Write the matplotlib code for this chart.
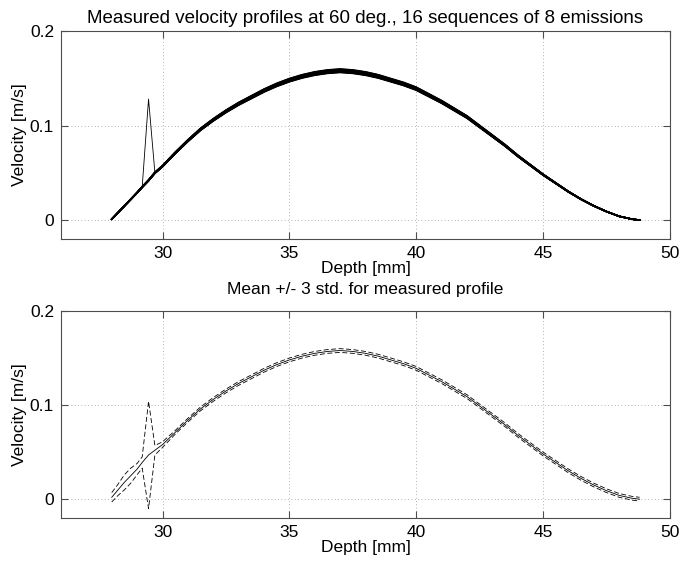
import numpy as np
import matplotlib
matplotlib.use("Agg")
import matplotlib.pyplot as plt

plt.rcParams['font.family'] = ['Liberation Sans', 'DejaVu Sans']
plt.rcParams['font.size'] = 12.5

# Depth samples [mm]
depth = [28.0, 28.25, 28.5, 28.75, 29.0, 29.2, 29.45, 29.7, 30.0, 30.5, 31.0, 31.5,
         32.0, 32.5, 33.0, 33.5, 34.0, 34.5, 35.0, 35.5, 36.0, 36.5, 37.0, 37.5,
         38.0, 38.5, 39.0, 39.5, 40.0, 40.5, 41.0, 41.5, 42.0, 42.5, 43.0, 43.5,
         44.0, 44.5, 45.0, 45.5, 46.0, 46.5, 47.0, 47.5, 48.0, 48.5, 48.8]

# Typical measured profile [m/s]
profile_vel = [0.001, 0.008, 0.015, 0.022, 0.029, 0.035, 0.042, 0.050, 0.057, 0.071, 0.084, 0.096,
               0.106, 0.115, 0.123, 0.130, 0.137, 0.143, 0.148, 0.152, 0.155, 0.157, 0.158, 0.157,
               0.155, 0.152, 0.148, 0.144, 0.139, 0.132, 0.125, 0.117, 0.109, 0.099, 0.089, 0.079,
               0.068, 0.058, 0.048, 0.039, 0.030, 0.022, 0.015, 0.009, 0.004, 0.001, 0.000]

# Relative gain of each of the 16 sequences
seq_gain = [1.000, 0.992, 1.006, 0.996, 1.010, 0.988, 1.003, 0.995,
            1.008, 0.990, 1.004, 0.998, 1.012, 0.993, 1.001, 0.997]

# One sequence has an outlier at 29.45 mm
spike_seq = 6
spike_depth_idx = 6
spike_vel = 0.128

# Mean and 3*std over the sequences
mean_vel = [0.002, 0.010, 0.018, 0.025, 0.032, 0.039, 0.047, 0.052, 0.058, 0.071, 0.084, 0.096,
            0.106, 0.115, 0.123, 0.130, 0.137, 0.143, 0.148, 0.152, 0.155, 0.157, 0.158, 0.157,
            0.155, 0.152, 0.148, 0.144, 0.139, 0.132, 0.125, 0.117, 0.109, 0.099, 0.089, 0.079,
            0.068, 0.058, 0.048, 0.039, 0.030, 0.022, 0.015, 0.009, 0.004, 0.001, 0.000]
std3_vel = [0.005, 0.006, 0.008, 0.008, 0.006, 0.006, 0.057, 0.005, 0.003, 0.002, 0.002, 0.002,
            0.002, 0.002, 0.002, 0.002, 0.002, 0.002, 0.002, 0.002, 0.002, 0.002, 0.002, 0.002,
            0.002, 0.002, 0.002, 0.002, 0.002, 0.002, 0.002, 0.002, 0.002, 0.002, 0.002, 0.002,
            0.002, 0.002, 0.002, 0.002, 0.002, 0.002, 0.002, 0.002, 0.002, 0.002, 0.002]

xticks = [30, 35, 40, 45, 50]
yticks = [0, 0.1, 0.2]
ytick_labels = ['0', '0.1', '0.2']

depth = np.array(depth)
profile_vel = np.array(profile_vel)
mean_vel = np.array(mean_vel)
std3_vel = np.array(std3_vel)

W, H = 681, 565
fig = plt.figure(figsize=(W/100, H/100), dpi=100)
ax1 = fig.add_axes([61/W, 1-239/H, 609/W, 208/H])
ax2 = fig.add_axes([61/W, 1-518/H, 609/W, 207/H])

# Top: all sequences
for i, g in enumerate(seq_gain):
    v = profile_vel*g
    if i == spike_seq:
        v = v.copy()
        v[spike_depth_idx] = spike_vel
    ax1.plot(depth, v, color='k', lw=1.1 if i != spike_seq else 0.6)

# Bottom: mean +/- 3 std
ax2.plot(depth, mean_vel, color='k', lw=0.6)
ax2.plot(depth, mean_vel+std3_vel, '--', color='k', lw=0.6, dashes=(6, 3))
ax2.plot(depth, mean_vel-std3_vel, '--', color='k', lw=0.6, dashes=(6, 3))

titles = ['Measured velocity profiles at 60 deg., 16 sequences of 8 emissions',
          'Mean +/- 3 std. for measured profile']
title_size = [13.5, 12.5]
title_pad = [6, 12]
for ax, t, fs, tp in zip([ax1, ax2], titles, title_size, title_pad):
    ax.set_xlim(26, 50)
    ax.set_ylim(-0.02, 0.2)
    ax.set_xticks(xticks)
    ax.set_yticks(yticks)
    ax.set_yticklabels(ytick_labels)
    ax.grid(True, linestyle=(0, (1, 3)), color='0.6', lw=0.6)
    ax.tick_params(direction='in', length=5, top=True, right=True, color='0.3', pad=5)
    for s in ax.spines.values():
        s.set_color('0.3')
        s.set_linewidth(0.8)
    ax.set_xlabel('Depth [mm]', labelpad=0)
    ax.set_ylabel('Velocity [m/s]', labelpad=2)
    ax.set_title(t, fontsize=fs, pad=tp)

fig.savefig('out.png', dpi=100)
